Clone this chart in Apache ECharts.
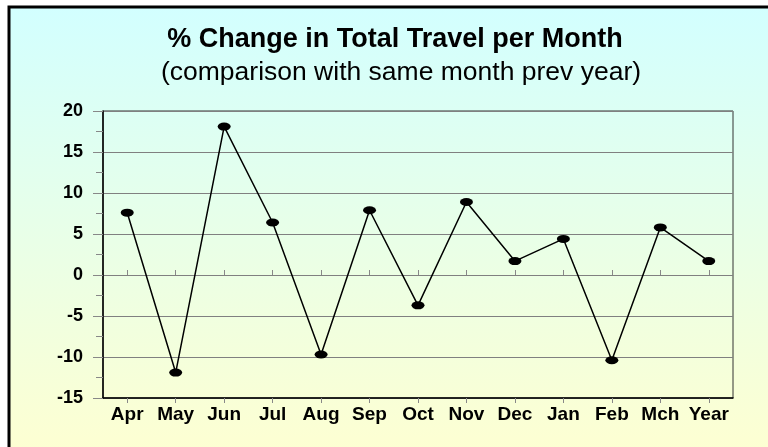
<!DOCTYPE html>
<html><head><meta charset="utf-8">
<script src="https://cdn.jsdelivr.net/npm/echarts@6/dist/echarts.min.js"></script>
<style>html,body{margin:0;padding:0;background:#fff}#c{width:768px;height:447px}</style>
</head><body><div id="c"></div>
<script>
const categories = ['Apr','May','Jun','Jul','Aug','Sep','Oct','Nov','Dec','Jan','Feb','Mch','Year'];
const values = [7.6, -11.9, 18.1, 6.4, -9.7, 7.9, -3.7, 8.9, 1.7, 4.4, -10.4, 5.8, 1.7];
const yTicks = [-15, -10, -5, 0, 5, 10, 15, 20];
const titleText = '% Change in Total Travel per Month';
const subtitleText = '(comparison with same month prev year)';

const chart = echarts.init(document.getElementById('c'));
const F = 'Arial, "Liberation Sans", sans-serif';
const grid = {left: 103, right: 35, top: 111, bottom: 49};
chart.setOption({
  animation: false,
  graphic: [{
    type: 'rect', z: -10, silent: true,
    shape: {x: 9, y: 7, width: 780, height: 460},
    style: {
      fill: new echarts.graphic.LinearGradient(0, 0, 0, 1, [
        {offset: 0, color: '#D2FFFF'}, {offset: 1, color: '#FFFFD0'}
      ]),
      stroke: '#000', lineWidth: 3
    }
  }],
  title: [{
    text: titleText, left: 390, textAlign: 'center', top: 21,
    textStyle: {fontFamily: F, fontWeight: 'bold', fontSize: 27, color: '#000'}
  }, {
    text: subtitleText, left: 396, textAlign: 'center', top: 54,
    textStyle: {fontFamily: F, fontWeight: 'normal', fontSize: 26.5, color: '#000'}
  }],
  grid: Object.assign({show: true, borderColor: '#333', borderWidth: 1, backgroundColor: 'transparent'}, grid),
  xAxis: [{
    type: 'category', data: categories, boundaryGap: true,
    axisLine: {lineStyle: {color: '#000', width: 1.5}, onZero: false},
    axisTick: {show: true, alignWithLabel: true, length: 5, lineStyle: {color: '#888'}},
    axisLabel: {fontFamily: F, fontWeight: 'bold', fontSize: 19, color: '#000', margin: 7, interval: 0},
    splitLine: {show: false}
  }, {
    type: 'category', data: categories, boundaryGap: true, position: 'bottom',
    axisLine: {show: false},
    axisTick: {show: true, inside: true, alignWithLabel: true, length: 5, lineStyle: {color: '#888'}},
    axisLabel: {show: false}, splitLine: {show: false}
  }],
  yAxis: [{
    type: 'value', min: yTicks[0], max: yTicks[yTicks.length - 1], interval: 5,
    axisLine: {show: true, lineStyle: {color: '#000', width: 1.5}, onZero: false},
    axisTick: {show: true, length: 10, lineStyle: {color: '#888'}},
    minorTick: {show: true, splitNumber: 2, length: 6, lineStyle: {color: '#888'}},
    axisLabel: {fontFamily: F, fontWeight: 'bold', fontSize: 18, color: '#000', margin: 20},
    splitLine: {show: true, lineStyle: {color: '#808080', width: 1}}
  }, {
    type: 'value', min: yTicks[0], max: yTicks[yTicks.length - 1], interval: 5, position: 'left',
    axisLine: {show: false},
    axisTick: {show: false},
    minorTick: {show: true, splitNumber: 2, length: 7, lineStyle: {color: '#888'}},
    axisLabel: {show: false}, splitLine: {show: false}
  }],
  series: [{
    type: 'line', data: values,
    symbol: 'circle', symbolSize: [13, 8], showAllSymbol: true,
    itemStyle: {color: '#000'},
    lineStyle: {color: '#000', width: 1.5}
  }]
});
</script></body></html>
